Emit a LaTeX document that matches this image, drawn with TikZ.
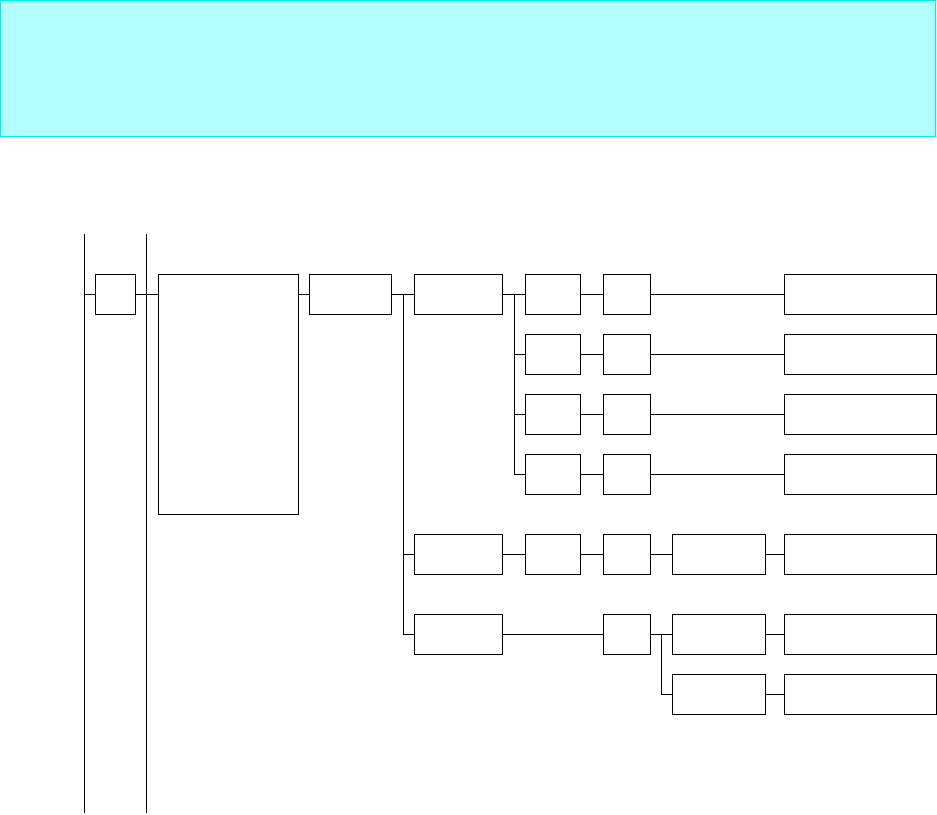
\documentclass[tikz,border=0pt]{standalone}
\definecolor{bannerfill}{RGB}{178,255,255}
\definecolor{bannerline}{RGB}{0,240,240}
\begin{document}
\begin{tikzpicture}[x=1pt,y=-1pt,
  blk/.style={draw=black,line width=1pt,inner sep=0pt,minimum height=40pt},
  wire/.style={draw=black,line width=1pt}]
\useasboundingbox (0,0) rectangle (937,814);
\fill[bannerfill,draw=bannerline,line width=1pt] (0.5,0.5) rectangle (935.5,136);
% rails
\coordinate (r1t) at (84.5,234); \coordinate (r1b) at (84.5,813);
\coordinate (r2t) at (146.3,234); \coordinate (r2b) at (146.3,813);
\draw[wire] (r1t) -- (r1b);
\draw[wire] (r2t) -- (r2b);
% boxes
\node[blk,minimum width=40pt] (b1) at (115.2,294) {};
\node[blk,minimum width=140pt,minimum height=240pt] (b2) at (228.3,394) {};
\node[blk,minimum width=82pt] (b3) at (350.3,294) {};
\node[blk,minimum width=88.4pt] (b4) at (458.5,294) {};
\foreach \i/\y in {1/294,2/354,3/414,4/474}{
  \node[blk,minimum width=55.4pt] (a\i) at (553,\y) {};
  \node[blk,minimum width=47pt] (c\i) at (626.8,\y) {};
  \node[blk,minimum width=152pt] (r\i) at (860.3,\y) {};
}
\node[blk,minimum width=88.4pt] (d5) at (458.5,554) {};
\node[blk,minimum width=55.4pt] (a5) at (553,554) {};
\node[blk,minimum width=47pt] (c5) at (626.8,554) {};
\node[blk,minimum width=93pt] (e5) at (719.2,554) {};
\node[blk,minimum width=152pt] (r5) at (860.3,554) {};
\node[blk,minimum width=88.4pt] (d6) at (458.5,634) {};
\node[blk,minimum width=47pt] (c6) at (626.8,634) {};
\node[blk,minimum width=93pt] (e6) at (719.2,634) {};
\node[blk,minimum width=152pt] (r6) at (860.3,634) {};
\node[blk,minimum width=93pt] (e7) at (719.2,694) {};
\node[blk,minimum width=152pt] (r7) at (860.3,694) {};
% junctions
\coordinate (j1) at (403.3,294);
\coordinate (j2) at (514.3,294);
\coordinate (j3) at (661.7,634);
% connectors
\draw[wire] (r1t |- b1.west) -- (b1.west);
\draw[wire] (b1.east) -- (b2.west |- b1.east);
\draw[wire] (b2.east |- b3.west) -- (b3.west);
\draw[wire] (b3.east) -- (b4.west);
\draw[wire] (j1) |- (d6.west);
\draw[wire] (j1 |- d5.west) -- (d5.west);
\draw[wire] (b4.east) -- (a1.west);
\draw[wire] (j2) |- (a4.west);
\draw[wire] (j2 |- a2.west) -- (a2.west);
\draw[wire] (j2 |- a3.west) -- (a3.west);
\foreach \i in {1,2,3,4}{
  \draw[wire] (a\i.east) -- (c\i.west);
  \draw[wire] (c\i.east) -- (r\i.west);
}
\draw[wire] (d5.east) -- (a5.west);
\draw[wire] (a5.east) -- (c5.west);
\draw[wire] (c5.east) -- (e5.west);
\draw[wire] (e5.east) -- (r5.west);
\draw[wire] (d6.east) -- (c6.west);
\draw[wire] (c6.east) -- (e6.west);
\draw[wire] (j3) |- (e7.west);
\draw[wire] (e6.east) -- (r6.west);
\draw[wire] (e7.east) -- (r7.west);
\end{tikzpicture}
\end{document}
